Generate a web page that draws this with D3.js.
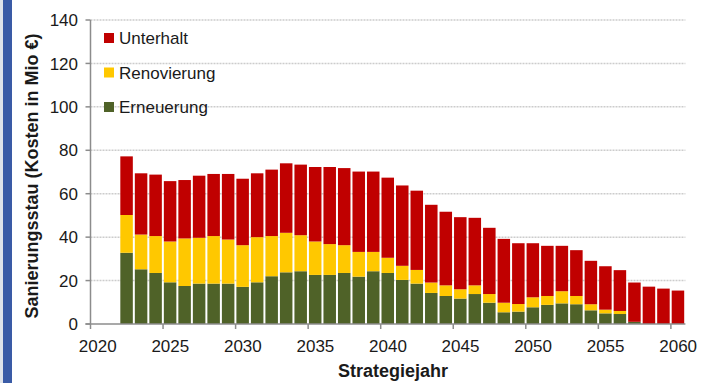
<!DOCTYPE html>
<html>
<head>
<meta charset="utf-8">
<script src="https://cdn.jsdelivr.net/npm/d3@7"></script>
<style>
  html, body { margin: 0; padding: 0; background: #fff; }
  svg { display: block; font-family: Arial, "Liberation Sans", sans-serif; }
</style>
</head>
<body>
<svg id="chart" width="708" height="383"></svg>
<script>
const years = [2022,2023,2024,2025,2026,2027,2028,2029,2030,2031,2032,2033,2034,2035,2036,2037,2038,2039,2040,2041,2042,2043,2044,2045,2046,2047,2048,2049,2050,2051,2052,2053,2054,2055,2056,2057,2058,2059,2060];
const erneuerung = [32.8,25.2,23.5,19.2,17.5,18.6,18.6,18.6,17.1,19.2,22.0,23.8,24.3,22.6,22.6,23.5,21.8,24.3,23.5,20.3,18.6,14.3,12.9,11.7,13.8,9.8,5.4,5.7,7.7,8.8,9.5,9.1,6.3,4.9,4.6,1.0,0,0,0];
const renovierung = [17.4,16.0,17.0,18.8,21.9,21.1,21.9,20.3,19.2,20.8,18.5,18.2,16.6,15.4,14.2,12.8,11.4,8.9,7.0,6.5,6.3,4.8,4.9,4.3,4.0,4.0,4.4,3.5,4.6,4.1,5.6,3.8,2.8,1.7,1.4,0,0,0,0];
const unterhalt = [27.0,28.2,28.3,27.8,26.9,28.6,28.6,30.2,30.6,29.4,30.6,32.0,32.5,34.3,35.5,35.5,37.0,37.0,36.9,37.0,36.5,35.8,33.9,33.2,31.1,30.5,29.4,28.0,24.9,23.1,20.9,21.1,20.0,20.0,18.8,18.1,17.2,16.3,15.4];
const seriesNames = ["Erneuerung","Renovierung","Unterhalt"];
const seriesColors = ["#4f6228","#ffc800","#c00000"];
const yTicks = [0,20,40,60,80,100,120,140];
const xTicks = [2020,2025,2030,2035,2040,2045,2050,2055,2060];
const yTitle = "Sanierungsstau (Kosten in Mio €)";
const xTitle = "Strategiejahr";

const svg = d3.select("#chart");
svg.append("rect").attr("x",0).attr("y",0).attr("width",708).attr("height",383).attr("fill","#fff");
svg.append("rect").attr("x",0).attr("y",0).attr("width",3).attr("height",383).attr("fill","#dfe3ea");
svg.append("rect").attr("x",3).attr("y",0).attr("width",9).attr("height",383).attr("fill","#3a5ba6");

const x = d3.scaleLinear().domain([2020, 2061]).range([90.5, 685.4]);
const y = d3.scaleLinear().domain([0, 140]).range([324, 20]);

// gridlines
svg.append("g").selectAll("line").data(yTicks.filter(d => d > 0)).join("line")
  .attr("x1", x(2020)).attr("x2", x(2061))
  .attr("y1", d => y(d)).attr("y2", d => y(d))
  .attr("stroke", "#cccccc").attr("stroke-width", 1.5).attr("stroke-dasharray", "2,1");

// stacked bars
const rows = years.map((yr, i) => ({year: yr, Erneuerung: erneuerung[i], Renovierung: renovierung[i], Unterhalt: unterhalt[i]}));
const stack = d3.stack().keys(seriesNames)(rows);
svg.append("g").selectAll("g").data(stack).join("g")
  .attr("fill", (d, i) => seriesColors[i])
  .selectAll("rect").data(d => d).join("rect")
  .attr("x", d => x(d.data.year) + 0.8)
  .attr("width", d => x(d.data.year + 1) - x(d.data.year) - 2)
  .attr("y", d => y(d[1]))
  .attr("height", d => Math.max(0, y(d[0]) - y(d[1])));

// axes
const axisColor = "#8c8c8c";
svg.append("line").attr("x1", x(2020)).attr("x2", x(2020)).attr("y1", y(140)).attr("y2", y(0))
  .attr("stroke", axisColor).attr("stroke-width", 1.5);
svg.append("line").attr("x1", x(2020) - 5).attr("x2", x(2061)).attr("y1", y(0)).attr("y2", y(0))
  .attr("stroke", axisColor).attr("stroke-width", 1.5);
svg.append("g").selectAll("line").data(yTicks).join("line")
  .attr("x1", x(2020) - 5).attr("x2", x(2020)).attr("y1", d => y(d)).attr("y2", d => y(d))
  .attr("stroke", axisColor).attr("stroke-width", 1.5);
svg.append("g").selectAll("line").data(xTicks).join("line")
  .attr("x1", d => x(d)).attr("x2", d => x(d)).attr("y1", y(0)).attr("y2", y(0) + 5)
  .attr("stroke", axisColor).attr("stroke-width", 1.5);

svg.append("g").selectAll("text").data(yTicks).join("text")
  .attr("x", 78).attr("y", d => y(d)).attr("dy", "0.36em")
  .attr("text-anchor", "end").attr("font-size", 17).attr("fill", "#1a1a1a")
  .text(d => d);
svg.append("g").selectAll("text").data(xTicks).join("text")
  .attr("x", d => x(d + 0.5)).attr("y", 352)
  .attr("text-anchor", "middle").attr("font-size", 17).attr("fill", "#1a1a1a")
  .text(d => d);

svg.append("text").attr("x", 393).attr("y", 377).attr("text-anchor", "middle")
  .attr("font-size", 18).attr("font-weight", "bold").attr("fill", "#1a1a1a").text(xTitle);
svg.append("text").attr("transform", "translate(38,176) rotate(-90)").attr("text-anchor", "middle")
  .attr("font-size", 18).attr("font-weight", "bold").attr("fill", "#1a1a1a").text(yTitle);

// legend
const legendOrder = [2, 1, 0];
const lg = svg.append("g").selectAll("g").data(legendOrder).join("g")
  .attr("transform", (d, i) => `translate(104, ${38 + i * 34.5})`);
lg.append("rect").attr("x", 0).attr("y", -5).attr("width", 10).attr("height", 10)
  .attr("fill", d => seriesColors[d]);
lg.append("text").attr("x", 15).attr("dy", "0.36em").attr("font-size", 17).attr("fill", "#1a1a1a")
  .text(d => seriesNames[d]);
</script>
</body>
</html>
